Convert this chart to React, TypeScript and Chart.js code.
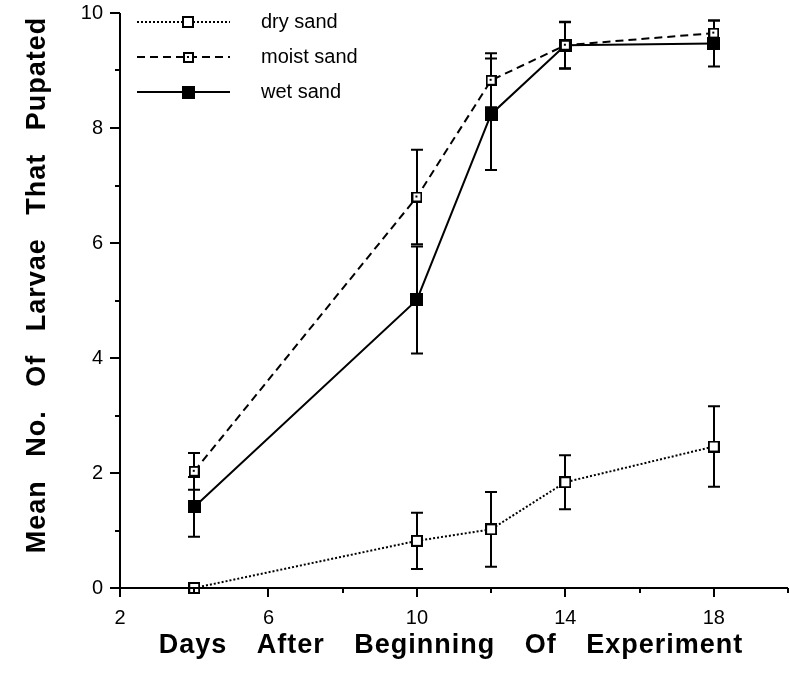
import React, { useEffect, useRef } from "react";
import { Chart, registerables } from "chart.js";

Chart.register(...registerables);

const days = [4, 10, 12, 14, 18];
const drySand = [0, 0.82, 1.02, 1.84, 2.46];
const drySandErr = [0, 0.49, 0.65, 0.47, 0.7];
const moistSand = [2.03, 6.8, 8.83, 9.44, 9.65];
const moistSandErr = [0.32, 0.82, 0.47, 0.4, 0.22];
const wetSand = [1.41, 5.01, 8.24, 9.44, 9.47];
const wetSandErr = [0.52, 0.93, 0.97, 0.41, 0.4];
const seriesLabels = ["dry sand", "moist sand", "wet sand"];
const xTitle = "Days After Beginning Of Experiment";
const yTitle = "Mean No. Of Larvae That Pupated";

const FONT = "'Liberation Sans', Arial, Helvetica, sans-serif";

function makeMarker(kind: "open" | "dot" | "filled"): HTMLCanvasElement {
  const s = kind === "filled" ? 13 : kind === "dot" ? 11 : 12;
  const c = document.createElement("canvas");
  c.width = s;
  c.height = s;
  const ctx = c.getContext("2d")!;
  ctx.fillStyle = "#000";
  ctx.fillRect(0, 0, s, s);
  if (kind !== "filled") {
    ctx.fillStyle = "#fff";
    ctx.fillRect(2, 2, s - 4, s - 4);
    if (kind === "dot") {
      ctx.fillStyle = "#000";
      ctx.fillRect(Math.floor(s / 2) - 1, Math.floor(s / 2) - 1, 2, 2);
    }
  }
  return c;
}

export default function App() {
  const ref = useRef<HTMLCanvasElement | null>(null);

  useEffect(() => {
    if (!ref.current) return;
    const markers = [makeMarker("open"), makeMarker("dot"), makeMarker("filled")];
    const errs = [drySandErr, moistSandErr, wetSandErr];
    const dashes = [[2, 2], [8, 5], []];

    const plugin = {
      id: "custom",
      beforeDatasetsDraw(chart: any) {
        const ctx = chart.ctx;
        const xs = chart.scales.x;
        const ys = chart.scales.y;
        ctx.save();
        ctx.strokeStyle = "#000";
        ctx.lineWidth = 2;
        chart.data.datasets.forEach((ds: any, i: number) => {
          const e = errs[i];
          ds.data.forEach((p: any, j: number) => {
            if (!e[j]) return;
            const x = Math.round(xs.getPixelForValue(p.x));
            const y1 = ys.getPixelForValue(p.y + e[j]);
            const y2 = ys.getPixelForValue(p.y - e[j]);
            ctx.beginPath();
            ctx.moveTo(x, y1);
            ctx.lineTo(x, y2);
            ctx.moveTo(x - 6, y1);
            ctx.lineTo(x + 6, y1);
            ctx.moveTo(x - 6, y2);
            ctx.lineTo(x + 6, y2);
            ctx.stroke();
          });
        });
        ctx.restore();
      },
      afterDraw(chart: any) {
        const ctx = chart.ctx;
        const xs = chart.scales.x;
        const ys = chart.scales.y;
        const a = chart.chartArea;
        ctx.save();
        ctx.strokeStyle = "#000";
        ctx.lineWidth = 2;
        // axes
        ctx.beginPath();
        ctx.moveTo(a.left, a.top);
        ctx.lineTo(a.left, a.bottom);
        ctx.lineTo(a.right, a.bottom);
        ctx.stroke();
        // ticks
        xs.ticks.forEach((t: any) => {
          const x = Math.round(xs.getPixelForValue(t.value));
          const major = (t.value - 2) % 4 === 0;
          ctx.beginPath();
          ctx.moveTo(x, a.bottom);
          ctx.lineTo(x, a.bottom + (major ? 9 : 5));
          ctx.stroke();
        });
        ys.ticks.forEach((t: any) => {
          const y = Math.round(ys.getPixelForValue(t.value));
          const major = t.value % 2 === 0;
          ctx.beginPath();
          ctx.moveTo(a.left, y);
          ctx.lineTo(a.left - (major ? 10 : 5), y);
          ctx.stroke();
        });
        // legend
        const rows = [22, 57, 92];
        chart.data.datasets.forEach((ds: any, i: number) => {
          const y = rows[i];
          ctx.setLineDash(dashes[i]);
          ctx.lineWidth = 2;
          ctx.beginPath();
          ctx.moveTo(137, y);
          ctx.lineTo(230, y);
          ctx.stroke();
          ctx.setLineDash([]);
          const m = markers[i];
          ctx.drawImage(m, Math.round(188 - m.width / 2), Math.round(y - m.height / 2));
          ctx.fillStyle = "#000";
          ctx.font = `20px ${FONT}`;
          ctx.textAlign = "left";
          ctx.textBaseline = "middle";
          ctx.fillText(ds.label, 261, y);
        });
        // axis titles
        ctx.fillStyle = "#000";
        ctx.font = `bold 27px ${FONT}`;
        (ctx as any).letterSpacing = "1px";
        (ctx as any).wordSpacing = "21px";
        ctx.textAlign = "center";
        ctx.textBaseline = "middle";
        ctx.fillText(xTitle, 451, 646);
        (ctx as any).wordSpacing = "15px";
        ctx.translate(38, 285);
        ctx.rotate(-Math.PI / 2);
        ctx.fillText(yTitle, 0, 0);
        ctx.restore();
      },
    };

    const mk = (vals: number[]) => vals.map((v, i) => ({ x: days[i], y: v }));
    const chart = new Chart(ref.current, {
      type: "line",
      data: {
        datasets: [drySand, moistSand, wetSand].map((vals, i) => ({
          label: seriesLabels[i],
          data: mk(vals),
          borderColor: "#000",
          borderWidth: 2,
          borderDash: dashes[i],
          pointStyle: markers[i] as any,
          pointRadius: 6,
          pointHoverRadius: 6,
          fill: false,
          tension: 0,
          clip: false,
        })),
      },
      options: {
        animation: false,
        responsive: false,
        events: [],
        layout: { autoPadding: false, padding: { top: 13, right: 1, left: 0, bottom: 0 } },
        plugins: { legend: { display: false }, tooltip: { enabled: false } },
        scales: {
          x: {
            type: "linear",
            min: 2,
            max: 20,
            grid: { display: false, drawTicks: false },
            border: { display: false },
            ticks: {
              stepSize: 2,
              autoSkip: false,
              maxRotation: 0,
              padding: 18,
              color: "#000",
              font: { family: FONT, size: 20 },
              callback: (v: any) => ((v - 2) % 4 === 0 && v < 20 ? String(v) : ""),
            },
            afterFit: (s: any) => {
              s.height = 87;
              s.paddingLeft = 0;
              s.paddingRight = 0;
            },
          },
          y: {
            min: 0,
            max: 10,
            grid: { display: false, drawTicks: false },
            border: { display: false },
            ticks: {
              stepSize: 1,
              autoSkip: false,
              padding: 17,
              color: "#000",
              font: { family: FONT, size: 20 },
              callback: (v: any) => (v % 2 === 0 ? String(v) : ""),
            },
            afterFit: (s: any) => {
              s.width = 120;
              s.paddingTop = 0;
              s.paddingBottom = 0;
            },
          },
        },
      },
      plugins: [plugin],
    } as any);
    return () => chart.destroy();
  }, []);

  return (
    <div style={{ position: "fixed", left: 0, top: 0, width: 789, height: 675, background: "#fff" }}>
      <canvas ref={ref} width={789} height={675} style={{ width: 789, height: 675, display: "block" }} />
    </div>
  );
}
